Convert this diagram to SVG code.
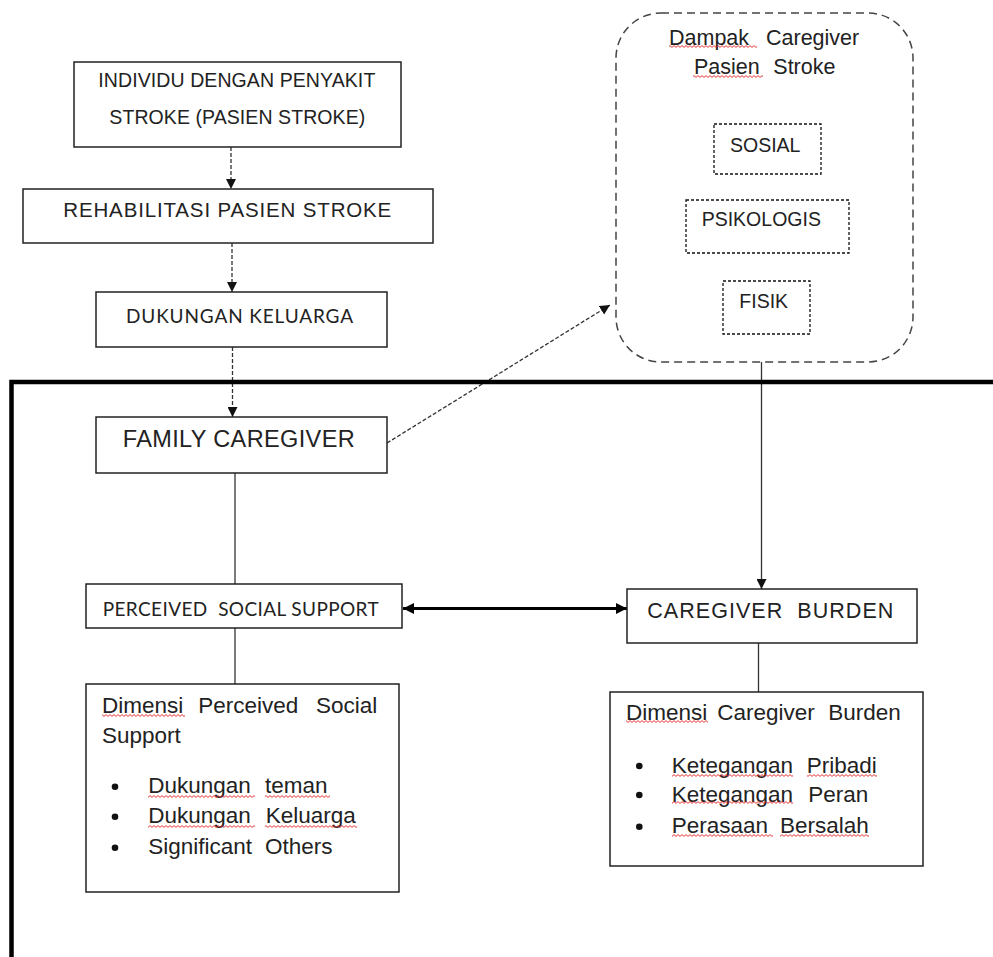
<svg xmlns="http://www.w3.org/2000/svg" width="993" height="957" viewBox="0 0 993 957">
<defs>
<marker id="ah" viewBox="0 0 10 10" refX="10" refY="5" markerWidth="10" markerHeight="10" markerUnits="userSpaceOnUse" orient="auto-start-reverse"><path d="M0,0 L10,5 L0,10 Z" fill="#111"/></marker>
<marker id="ah2" viewBox="0 0 10 10" refX="10" refY="5" markerWidth="11" markerHeight="11" markerUnits="userSpaceOnUse" orient="auto-start-reverse"><path d="M0,0 L10,5 L0,10 Z" fill="#000"/></marker>
<pattern id="wave" width="4" height="3" patternUnits="userSpaceOnUse"><path d="M0,2.4 L2,0.6 L4,2.4" fill="none" stroke="#e02020" stroke-width="0.9"/></pattern>
</defs>
<style>
.box{fill:#fff;stroke:#222;stroke-width:1.5}
.dbox{fill:none;stroke:#111;stroke-width:1.3;stroke-dasharray:3 2}
.t{font-family:"Liberation Sans",Arial,sans-serif;fill:#222}
.c{font-family:Lato,"Open Sans",sans-serif;fill:#222}
.dash{fill:none;stroke:#333;stroke-width:1.3;stroke-dasharray:4 2}
.ln{fill:none;stroke:#333;stroke-width:1.3}
.wv{fill:url(#wave)}
.bul{fill:#111}
</style>
<rect width="993" height="957" fill="#fff"/>

<g id="connectors">
<path class="dash" d="M231,147 V189" marker-end="url(#ah)"/>
<path class="dash" d="M232,243 V292" marker-end="url(#ah)"/>
<path class="dash" d="M232.5,347 V417" marker-end="url(#ah)"/>
<path class="dash" d="M387,443 L610,305" marker-end="url(#ah)"/>
<path class="ln" d="M235,473 V584"/>
<path class="ln" d="M235,628 V684"/>
<path fill="none" stroke="#000" stroke-width="3" d="M403,608.5 H627" marker-start="url(#ah2)" marker-end="url(#ah2)"/>
<path class="ln" d="M761.5,362 V589" marker-end="url(#ah)"/>
<path class="ln" d="M758.5,643 V692"/>
</g>

<g id="frame">
<path d="M11.5,957 V382 H993" fill="none" stroke="#000" stroke-width="4.5"/>
</g>

<g id="individu">
<rect class="box" x="74" y="62" width="327" height="85"/>
<text class="t" x="98.3" y="87" font-size="19.5" textLength="277">INDIVIDU DENGAN PENYAKIT</text>
<text class="t" x="109.3" y="124" font-size="19.5" textLength="256">STROKE (PASIEN STROKE)</text>
</g>

<g id="rehabilitasi">
<rect class="box" x="23" y="189" width="410" height="54"/>
<text class="t" x="63.3" y="217.3" font-size="20.5" textLength="328">REHABILITASI PASIEN STROKE</text>
</g>

<g id="dukungan">
<rect class="box" x="96" y="292" width="291" height="55"/>
<text class="c" x="126" y="323" font-size="19" textLength="227">DUKUNGAN KELUARGA</text>
</g>

<g id="family">
<rect class="box" x="96" y="417" width="291" height="56"/>
<text class="t" x="122.7" y="446.7" font-size="23.5" textLength="232">FAMILY CAREGIVER</text>
</g>

<g id="pss">
<rect class="box" x="86" y="584" width="316" height="44"/>
<text class="c" x="102.7" y="615.7" font-size="19" textLength="276" xml:space="preserve">PERCEIVED  SOCIAL SUPPORT</text>
</g>

<g id="cb">
<rect class="box" x="627" y="589" width="290" height="54"/>
<text class="t" x="647.3" y="618.3" font-size="21.5" textLength="246" xml:space="preserve">CAREGIVER  BURDEN</text>
</g>

<g id="dim-pss">
<rect class="box" x="86" y="684" width="313" height="208"/>
<g class="t" font-size="22.5">
<text x="102" y="713.3">Dimensi</text>
<text x="198.3" y="713.3">Perceived</text>
<text x="316" y="713.3">Social</text>
<text x="102" y="743.3">Support</text>
<text x="148.3" y="793.3">Dukungan</text>
<text x="265" y="793.3">teman</text>
<text x="148.3" y="823.3">Dukungan</text>
<text x="265.7" y="823.3">Keluarga</text>
<text x="148.3" y="854.3">Significant</text>
<text x="265" y="854.3">Others</text>
</g>
<circle class="bul" cx="115" cy="786.7" r="3.3"/>
<circle class="bul" cx="115" cy="816.7" r="3.3"/>
<circle class="bul" cx="115" cy="847.7" r="3.3"/>
<rect class="wv" x="102" y="714" width="83" height="3"/>
<rect class="wv" x="148" y="795" width="107" height="3"/>
<rect class="wv" x="265" y="795" width="65" height="3"/>
<rect class="wv" x="148" y="825" width="107" height="3"/>
<rect class="wv" x="265" y="825" width="92" height="3"/>
</g>

<g id="dim-cb">
<rect class="box" x="610" y="692" width="313" height="174"/>
<g class="t" font-size="22.5">
<text x="626" y="720">Dimensi</text>
<text x="717.3" y="720">Caregiver</text>
<text x="828.3" y="720">Burden</text>
<text x="671.7" y="772.7">Ketegangan</text>
<text x="806.7" y="772.7">Pribadi</text>
<text x="671.7" y="801.7">Ketegangan</text>
<text x="808.3" y="801.7">Peran</text>
<text x="671.7" y="833.3">Perasaan</text>
<text x="780" y="833.3">Bersalah</text>
</g>
<circle class="bul" cx="639.3" cy="766" r="3.3"/>
<circle class="bul" cx="639.3" cy="795" r="3.3"/>
<circle class="bul" cx="639.3" cy="826.7" r="3.3"/>
<rect class="wv" x="626" y="720" width="82" height="3"/>
<rect class="wv" x="672" y="774" width="121" height="3"/>
<rect class="wv" x="807" y="774" width="70" height="3"/>
<rect class="wv" x="672" y="801" width="121" height="3"/>
<rect class="wv" x="672" y="834" width="101" height="3"/>
<rect class="wv" x="780" y="834" width="89" height="3"/>
</g>

<g id="dampak">
<rect x="616" y="13" width="297" height="349" rx="45" ry="45" fill="none" stroke="#444" stroke-width="1.5" stroke-dasharray="8 5"/>
<g class="t" font-size="21.5">
<text x="669" y="45">Dampak</text>
<text x="766" y="45">Caregiver</text>
<text x="694" y="74">Pasien</text>
<text x="773.3" y="74">Stroke</text>
</g>
<rect class="wv" x="669" y="45" width="88" height="3"/>
<rect class="wv" x="693" y="75" width="70" height="3"/>
</g>

<g id="sosial">
<rect class="dbox" x="714" y="124" width="107" height="50"/>
<text class="t" x="730" y="151.7" font-size="19.5">SOSIAL</text>
</g>
<g id="psikologis">
<rect class="dbox" x="686" y="200" width="163" height="53"/>
<text class="t" x="701.7" y="226" font-size="19.5">PSIKOLOGIS</text>
</g>
<g id="fisik">
<rect class="dbox" x="723" y="281" width="87" height="53"/>
<text class="t" x="739.3" y="308.3" font-size="19.5">FISIK</text>
</g>
</svg>
